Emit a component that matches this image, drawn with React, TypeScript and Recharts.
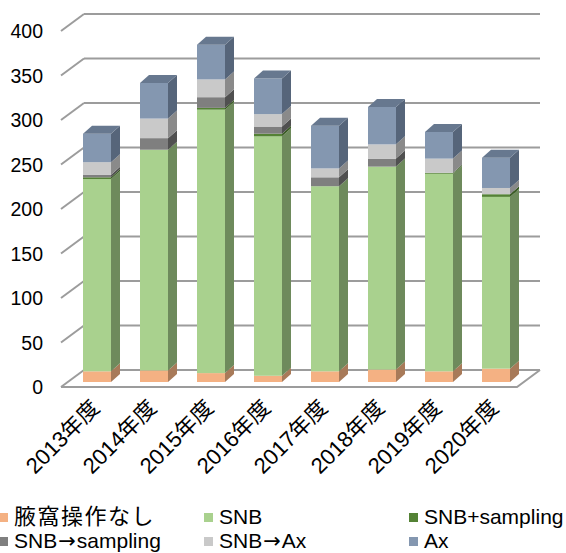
import React from 'react';
import { BarChart, Bar, XAxis, YAxis, CartesianGrid, Legend, ReferenceLine } from 'recharts';

// ---- data ----
const categories = ['2013年度', '2014年度', '2015年度', '2016年度', '2017年度', '2018年度', '2019年度', '2020年度'];
const noAxilla = [12, 13, 10, 7, 12, 14, 12, 15];
const snb = [216, 248, 296, 269, 208, 228, 222, 193];
const snbPlusSampling = [2, 0, 2, 3, 0, 0, 1, 3];
const snbToSampling = [3, 13, 12, 8, 10, 9, 0, 0];
const snbToAx = [14, 22, 20, 14, 10, 16, 16, 7];
const ax = [32, 40, 39, 40, 48, 42, 30, 34];
const seriesNames = ['腋窩操作なし', 'SNB', 'SNB+sampling', 'SNB→sampling', 'SNB→Ax', 'Ax'];
const yTicks = [0, 50, 100, 150, 200, 250, 300, 350, 400];

const FONT = "'Liberation Sans', 'Noto Sans CJK JP', Arial, sans-serif";
const ARROW_FONT = "'DejaVu Sans', sans-serif";

const SERIES = [
  { key: 's0', name: seriesNames[0], values: noAxilla, front: '#F4B183', side: '#A87A59', top: '#C99672' },
  { key: 's1', name: seriesNames[1], values: snb, front: '#A9D18E', side: '#6E8A5C', top: '#8BAF74' },
  { key: 's2', name: seriesNames[2], values: snbPlusSampling, front: '#548235', side: '#3A5B24', top: '#46702C' },
  { key: 's3', name: seriesNames[3], values: snbToSampling, front: '#7F7F7F', side: '#505050', top: '#686868' },
  { key: 's4', name: seriesNames[4], values: snbToAx, front: '#C9C9C9', side: '#8A8A8A', top: '#A8A8A8' },
  { key: 's5', name: seriesNames[5], values: ax, front: '#8497B0', side: '#56657A', top: '#67788F' },
];

const data = categories.map((c, i) => {
  const row: Record<string, any> = { name: c };
  SERIES.forEach((s) => { row[s.key] = s.values[i]; });
  return row;
});

// 3D geometry (offsets relative to the bar plane)
const BAR_DX = 9;
const BAR_DY = 8;
const FRONT = { dx: -7, dy: 5 };
const BACK = { dx: 16, dy: -12 };
const GRID_COLOR = '#9C9C9C';
const GRID_W = 2;

const makeShape = (si: number) => (props: any) => {
  const { x, y, width, height, payload } = props;
  if (!height || height <= 0 || !width) return <g />;
  const s = SERIES[si];
  const isTop = SERIES.slice(si + 1).every((o) => !payload[o.key]);
  const r = x + width;
  const b = y + height;
  return (
    <g>
      <rect x={x} y={y} width={width} height={height} fill={s.front} />
      <polygon points={`${r},${y} ${r + BAR_DX},${y - BAR_DY} ${r + BAR_DX},${b - BAR_DY} ${r},${b}`} fill={s.side} />
      {isTop && (
        <polygon points={`${x},${y} ${x + BAR_DX},${y - BAR_DY} ${r + BAR_DX},${y - BAR_DY} ${r},${y}`} fill={s.top} />
      )}
    </g>
  );
};

const gridLine = (props: any) => {
  const { x1, y1, x2, key } = props;
  return (
    <g key={key}>
      <line x1={x1 + BACK.dx} y1={y1 + BACK.dy} x2={x2 + BACK.dx} y2={y1 + BACK.dy} stroke={GRID_COLOR} strokeWidth={GRID_W} />
      <line x1={x1 + FRONT.dx} y1={y1 + FRONT.dy} x2={x1 + BACK.dx} y2={y1 + BACK.dy} stroke={GRID_COLOR} strokeWidth={GRID_W} />
    </g>
  );
};

const floorShape = (p: any) => (
  <polyline
    points={`${p.x1 + FRONT.dx},${p.y1 + FRONT.dy} ${p.x2 + FRONT.dx},${p.y1 + FRONT.dy} ${p.x2 + BACK.dx},${p.y1 + BACK.dy}`}
    fill="none"
    stroke={GRID_COLOR}
    strokeWidth={GRID_W}
  />
);

const YTick = (props: any) => {
  const { x, y, payload } = props;
  return (
    <text x={x - 25} y={y + 5} textAnchor="end" dominantBaseline="central" fontFamily={FONT} fontSize={19.5} fill="#000">
      {payload.value}
    </text>
  );
};

const XTick = (props: any) => {
  const { x, y, payload } = props;
  return (
    <text
      transform={`translate(${x - 1},${y + 22}) rotate(-45)`}
      textAnchor="end"
      dominantBaseline="central"
      fontFamily={FONT}
      fontSize={22}
      fill="#000"
    >
      {payload.value}
    </text>
  );
};

const boxed: React.CSSProperties = { display: 'inline-block', height: 22, lineHeight: '22px', overflow: 'visible', verticalAlign: 'top' };

const renderName = (name: string) => {
  const parts = name.split('→');
  if (parts.length === 1) {
    const isCjk = /[^\x00-\x7F]/.test(name);
    return <span style={isCjk ? { ...boxed, letterSpacing: 1.5, fontSize: 22 } : boxed}>{name}</span>;
  }
  return (
    <span style={boxed}>
      {parts[0]}
      <span style={{ ...boxed, fontFamily: ARROW_FONT, margin: '0 1px' }}>→</span>
      {parts[1]}
    </span>
  );
};

const renderLegend = () => (
  <div style={{ position: 'relative', width: 566, height: 46, fontFamily: FONT, fontSize: 21, color: '#000', lineHeight: '22px' }}>
    {SERIES.map((s, i) => {
      const col = i % 3;
      const row = Math.floor(i / 3);
      return (
        <div
          key={s.key}
          style={{
            position: 'absolute',
            left: col * 205 - 1,
            top: row * 24,
            display: 'flex',
            alignItems: 'center',
            whiteSpace: 'nowrap',
            lineHeight: '22px',
            height: 22,
          }}
        >
          <span style={{ display: 'inline-block', width: 9, height: 9, background: s.front, marginRight: 6 }} />
          {renderName(s.name)}
        </div>
      );
    })}
  </div>
);

export default function App() {
  return (
    <div style={{ position: 'absolute', left: 0, top: 0, width: 566, height: 553, background: '#fff' }}>
      <BarChart width={566} height={553} data={data} margin={{ top: 26, right: 42, left: 8, bottom: 71 }} barSize={28}>
        <CartesianGrid horizontal={gridLine} vertical={false} />
        <ReferenceLine y={0} shape={floorShape} />
        <XAxis dataKey="name" height={100} axisLine={false} tickLine={false} tickSize={0} tickMargin={0} interval={0} tick={<XTick />} />
        <YAxis
          domain={[0, 400]}
          ticks={yTicks}
          width={60}
          axisLine={false}
          tickLine={false}
          tickSize={0}
          tickMargin={0}
          interval={0}
          tick={<YTick />}
        />
        {SERIES.map((s, i) => (
          <Bar key={s.key} dataKey={s.key} name={s.name} stackId="a" fill={s.front} shape={makeShape(i)} isAnimationActive={false} />
        ))}
        <Legend
          layout="vertical"
          align="center"
          verticalAlign="middle"
          wrapperStyle={{ left: 0, top: 506, width: 566, height: 46 }}
          content={renderLegend}
        />
      </BarChart>
    </div>
  );
}
